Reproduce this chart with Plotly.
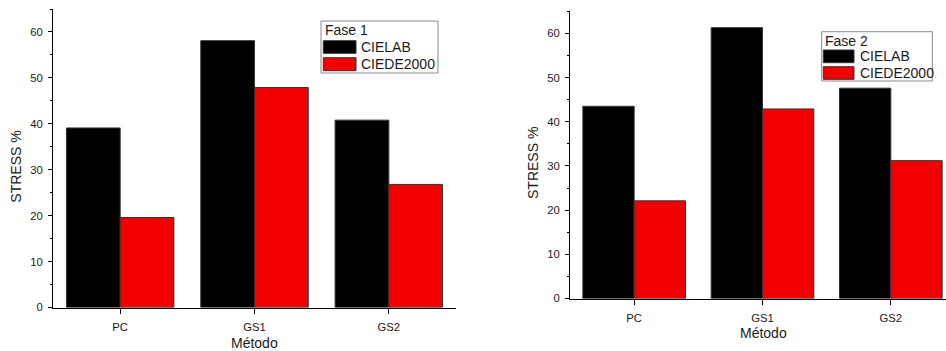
import plotly.graph_objects as go

W, H = 946, 351

# ---- data ----
methods = ["PC", "GS1", "GS2"]
series_names = ["CIELAB", "CIEDE2000"]
series_colors = ["#000000", "#f20000"]
fase1_cielab = [39.1, 58.1, 40.8]
fase1_ciede2000 = [19.6, 47.9, 26.8]
fase2_cielab = [43.5, 61.3, 47.6]
fase2_ciede2000 = [22.1, 42.9, 31.2]
panel_titles = ["Fase 1", "Fase 2"]
y_title = "STRESS %"
x_title = "Método"

FONT = "Liberation Sans, Arial, sans-serif"
TXT = "#1a1a1a"

def px(x):
    return x / W

def py(y):
    return 1 - y / H

fig = go.Figure()

panels = [
    dict(vals=[fase1_cielab, fase1_ciede2000], xa="x", ya="y",
         xdom=[px(53), px(456)], ydom=[py(307.5), py(9)], xr=[-0.5, 2.5]),
    dict(vals=[fase2_cielab, fase2_ciede2000], xa="x2", ya="y2",
         xdom=[px(570), 1.0], ydom=[py(298.5), py(11.3)], xr=[-0.5, 2.43]),
]

for p in panels:
    for name, color, v in zip(series_names, series_colors, p["vals"]):
        fig.add_trace(go.Bar(
            x=methods, y=v, name=name, xaxis=p["xa"], yaxis=p["ya"],
            marker=dict(color=color, line=dict(color="#333333", width=1)),
            showlegend=False,
        ))

tick_font = dict(family=FONT, size=11.3, color=TXT)

lay = dict(
    width=W, height=H, margin=dict(l=0, r=0, t=0, b=0, autoexpand=False),
    paper_bgcolor="white", plot_bgcolor="white",
    barmode="group", bargap=0.2, bargroupgap=0.0,
    font=dict(family=FONT, color=TXT),
)

for i, p in enumerate(panels):
    n = i + 1
    xa = "xaxis" if n == 1 else "xaxis2"
    ya = "yaxis" if n == 1 else "yaxis2"
    xname = "x" if n == 1 else "x2"
    yname = "y" if n == 1 else "y2"
    lay[xa] = dict(domain=p["xdom"], anchor=yname, type="category", range=p["xr"],
                   showline=True, linecolor="black", linewidth=1, showgrid=False,
                   ticks="outside", ticklen=5, tickcolor="black", tickfont=tick_font,
                   ticklabelstandoff=4, zeroline=False, automargin=False)
    lay[ya] = dict(domain=p["ydom"], anchor=xname, range=[0, 65], dtick=10, tick0=0,
                   showline=True, linecolor="black", linewidth=1, showgrid=False,
                   ticks="outside", ticklen=4, tickcolor="black", tickfont=tick_font,
                   ticklabelstandoff=3,
                   minor=dict(ticks="outside", ticklen=2.5, dtick=5, tick0=0, tickcolor="black"),
                   zeroline=False, automargin=False)
    # bottom half-step ticks
    lay["xaxis%d" % (n + 2)] = dict(overlaying=xname, anchor=yname, side="bottom",
                                     range=p["xr"], dtick=0.5, tick0=-0.5,
                                     showline=False, showgrid=False, zeroline=False,
                                     ticks="outside", ticklen=5, tickcolor="black",
                                     showticklabels=False, automargin=False)
    # top axis with inward ticks
    lay["xaxis%d" % (n + 4)] = dict(overlaying=xname, anchor=yname, side="top",
                                     range=p["xr"], dtick=0.5, tick0=-0.5,
                                     showline=True, linecolor="black", linewidth=1,
                                     showgrid=False, zeroline=False,
                                     ticks="inside", ticklen=4, tickcolor="black",
                                     showticklabels=False, automargin=False)

# right axis for panel 1
lay["yaxis3"] = dict(overlaying="y", anchor="x", side="right", range=[0, 65], dtick=10, tick0=0,
                     showline=True, linecolor="black", linewidth=1, showgrid=False,
                     zeroline=False, ticks="inside", ticklen=4, tickcolor="black",
                     minor=dict(ticks="inside", ticklen=2.5, dtick=5, tick0=0, tickcolor="black"),
                     showticklabels=False, automargin=False)

fig.update_layout(**lay)

# axis titles
title_pos = [
    dict(yx=15.7, yy=167, xx=254, xy=343),
    dict(yx=533, yy=163, xx=763, xy=333),
]
for t in title_pos:
    fig.add_annotation(text=y_title, x=px(t["yx"]), y=py(t["yy"]), xref="paper", yref="paper",
                       textangle=-90, showarrow=False, xanchor="center", yanchor="middle",
                       font=dict(family=FONT, size=14, color=TXT))
    fig.add_annotation(text=x_title, x=px(t["xx"]), y=py(t["xy"]), xref="paper", yref="paper",
                       showarrow=False, xanchor="center", yanchor="middle",
                       font=dict(family=FONT, size=14, color=TXT))

# legends (drawn boxes)
legends = [
    dict(box=(321, 21, 438, 73), tx=323.3, ty=30, sw=(323.3, 356), rows=[(40.7, 53.3), (57.7, 70.7)], txx=359.3),
    dict(box=(821.7, 31.7, 932.3, 81), tx=823.3, ty=40.5, sw=(823.3, 854), rows=[(50, 62.7), (66.7, 79.3)], txx=857.7),
]
for title, lg in zip(panel_titles, legends):
    x0, y0, x1, y1 = lg["box"]
    fig.add_shape(type="rect", xref="paper", yref="paper", x0=px(x0), x1=px(x1), y0=py(y1), y1=py(y0),
                  line=dict(color="#8a8a8a", width=1), fillcolor="white", layer="above")
    fig.add_annotation(text=title, x=px(lg["tx"]), y=py(lg["ty"]), xref="paper", yref="paper",
                       showarrow=False, xanchor="left", yanchor="middle",
                       font=dict(family=FONT, size=14, color=TXT))
    for name, color, (r0, r1) in zip(series_names, series_colors, lg["rows"]):
        fig.add_shape(type="rect", xref="paper", yref="paper", x0=px(lg["sw"][0]), x1=px(lg["sw"][1]),
                      y0=py(r1), y1=py(r0), line=dict(color="#333333", width=1), fillcolor=color,
                      layer="above")
        fig.add_annotation(text=name, x=px(lg["txx"]), y=py((r0 + r1) / 2), xref="paper", yref="paper",
                           showarrow=False, xanchor="left", yanchor="middle",
                           font=dict(family=FONT, size=14, color=TXT))

# remove the browser's default page margin so the figure sits at the window origin
page_css = ("document.documentElement.style.margin='0';document.body.style.margin='0';"
            "document.body.style.padding='0';document.documentElement.style.overflow='hidden';"
            "document.body.style.overflow='hidden';")
fig.write_html("out.html", post_script=page_css)
